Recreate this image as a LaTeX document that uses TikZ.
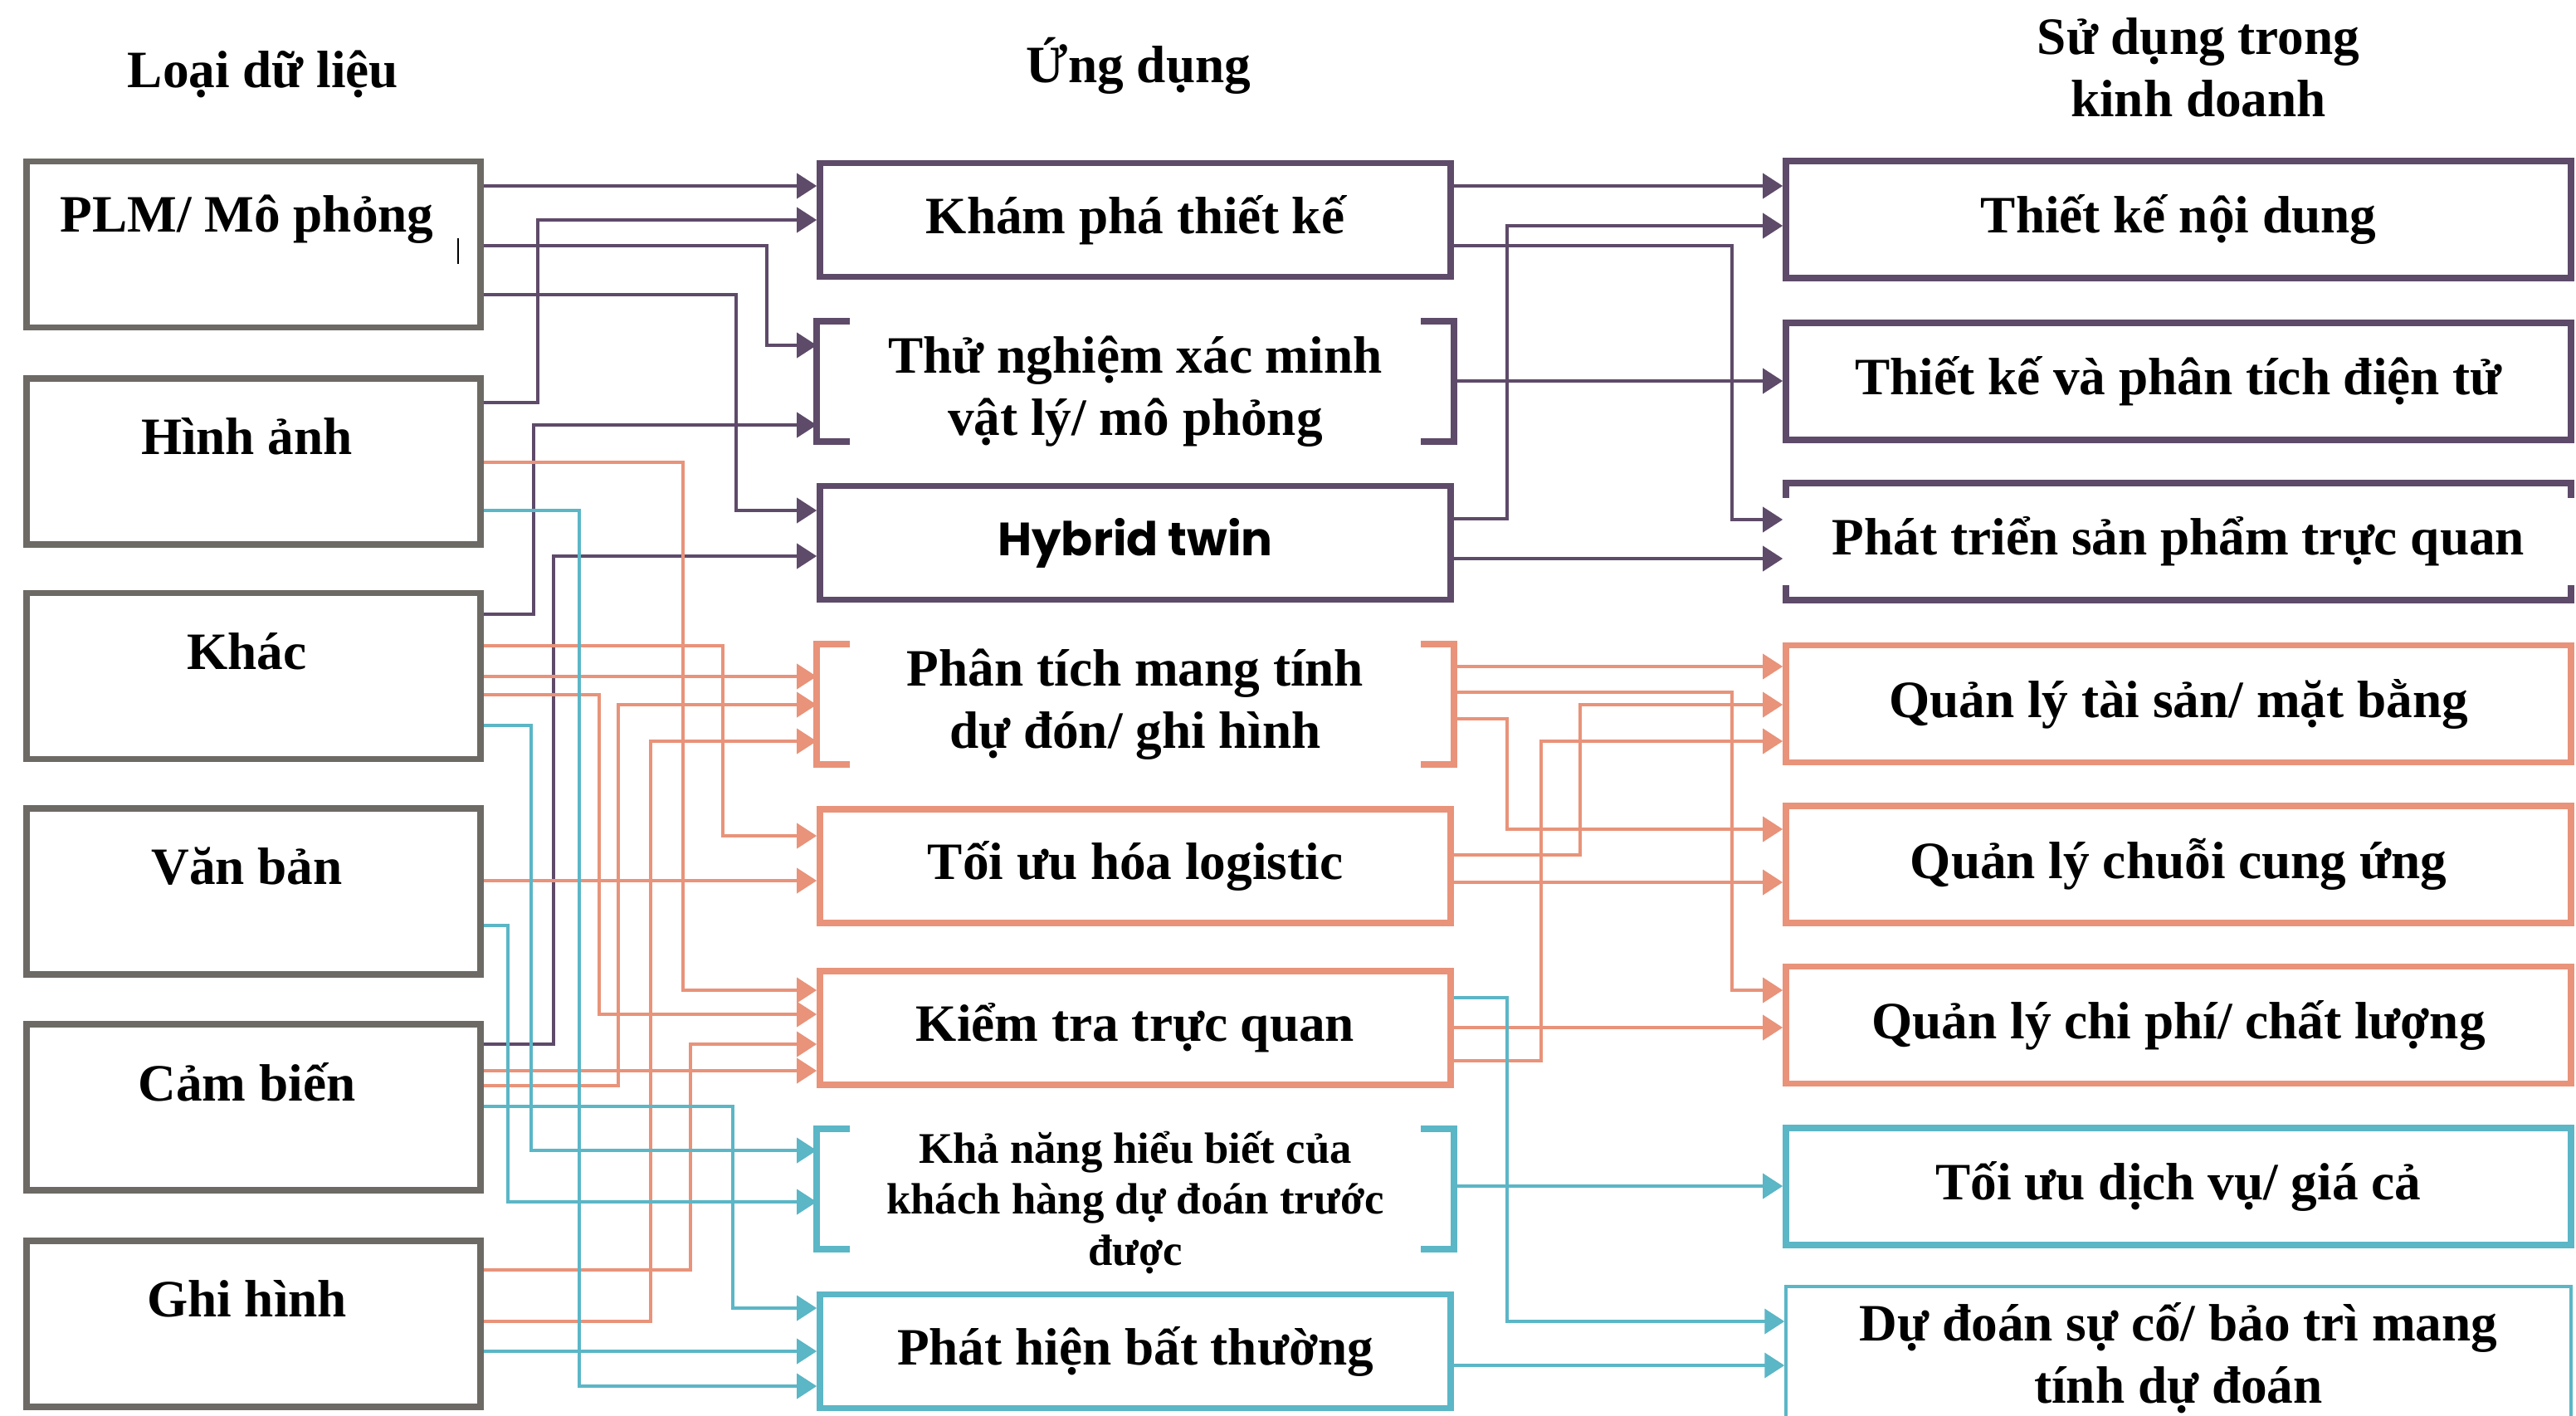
\documentclass[tikz,border=0pt]{standalone}
\usepackage{fontspec}
\setmainfont{Liberation Serif}
\newfontfamily\hybfont{Poppins}
\usepackage{tikz}
\usetikzlibrary{arrows.meta,backgrounds}
\definecolor{grayc}{HTML}{6D6964}
\definecolor{purp}{HTML}{5E4A69}
\definecolor{oran}{HTML}{E8937A}
\definecolor{cyanc}{HTML}{5BB6C6}
\tikzstyle{datbox}=[draw=grayc, line width=2.2pt, minimum width=5.47cm, minimum height=2cm, inner sep=0pt]
\tikzstyle{dlabel}=[font=\bfseries\fontsize{18}{21.3}\selectfont, yshift=3mm, xshift=-0.8mm]
\tikzstyle{appbox}=[line width=2.2pt, minimum width=7.6cm, minimum height=1.37cm, inner sep=0pt, align=center,
font=\bfseries\fontsize{18}{21.3}\selectfont]
\tikzstyle{usebox}=[line width=2.2pt, minimum width=9.46cm, minimum height=1.41cm, inner sep=0pt, align=center,
font=\bfseries\fontsize{18}{21.3}\selectfont]
\tikzstyle{head}=[align=center, font=\bfseries\fontsize{18}{21.3}\selectfont]
\tikzstyle{dlink}=[line width=1.1pt, -{Triangle[length=2.4mm,width=3mm]}]

\begin{document}
\begin{tikzpicture}
\useasboundingbox (0,0) rectangle (31.04,-17.05);
% column heads
\node[head] (h1) at (3.17,-0.89) {Loại dữ liệu};
\node[head] (h2) at (13.72,-0.79) {Ứng dụng};
\node[head] (h3) at (26.49,-0.815) {Sử dụng trong\\kinh doanh};
% data types
\node[datbox, label={[dlabel,name=plmT]center:PLM/ Mô phỏng}] (plm) at (3.055,-2.945) {};
\node[datbox, label={[dlabel,name=hinhT]center:Hình ảnh}] (hinh) at (3.055,-5.56) {};
\node[datbox, label={[dlabel,name=khacT]center:Khác}] (khac) at (3.055,-8.145) {};
\node[datbox, label={[dlabel,name=vanT]center:Văn bản}] (van) at (3.055,-10.74) {};
\node[datbox, label={[dlabel,name=camT]center:Cảm biến}] (cam) at (3.055,-13.34) {};
\node[datbox, label={[dlabel,name=ghiT]center:Ghi hình}] (ghi) at (3.055,-15.95) {};
\draw[black, line width=0.5pt] (5.52,-2.87) -- (5.52,-3.18);
% applications
\node[appbox, draw=purp] (kham) at (13.68,-2.65) {Khám phá thiết kế};
\node[appbox, label={[appbox,name=thuT,yshift=-1.2mm]center:{Thử nghiệm xác minh\\vật lý/ mô phỏng}}] (thu) at (13.68,-4.595) {};
\node[appbox, draw=purp, font=\hybfont\bfseries\fontsize{16}{19}\selectfont] (hyb) at (13.68,-6.54) {Hybrid twin};
\node[appbox] (phan) at (13.68,-8.485) {Phân tích mang tính\\dự đón/ ghi hình};
\node[appbox, draw=oran] (toi) at (13.68,-10.435) {Tối ưu hóa logistic};
\node[appbox, draw=oran] (kiem) at (13.68,-12.385) {Kiểm tra trực quan};
\node[appbox, label={[appbox,name=khaT,yshift=-1.6mm,font=\bfseries\fontsize{15}{17.5}\selectfont]center:{Khả năng hiểu biết của\\khách hàng dự đoán trước\\được}}] (kha) at (13.68,-14.325) {};
\node[appbox, draw=cyanc] (phat) at (13.68,-16.28) {Phát hiện bất thường};
\foreach \n/\c in {thu/purp, phan/oran, kha/cyanc} {
  \draw[\c, line width=2.2pt] ([xshift=4mm]\n.north west) -- (\n.north west) -- (\n.south west) -- ([xshift=4mm]\n.south west);
  \draw[\c, line width=2.2pt] ([xshift=-4mm]\n.north east) -- (\n.north east) -- (\n.south east) -- ([xshift=-4mm]\n.south east);
}
% business use
\node[usebox, draw=purp] (tknd) at (26.25,-2.645) {Thiết kế nội dung};
\node[usebox, draw=purp] (tkpt) at (26.25,-4.595) {Thiết kế và phân tích điện tử};
\node[usebox, draw=purp] (ptsp) at (26.25,-6.525) {};
\fill[white] (21.48,-6.0) rectangle (31.04,-7.05);
\node[usebox] (ptspT) at (ptsp.center) {Phát triển sản phẩm trực quan};
\node[usebox, draw=oran] (qlts) at (26.25,-8.48) {Quản lý tài sản/ mặt bằng};
\node[usebox, draw=oran] (qlcu) at (26.25,-10.415) {Quản lý chuỗi cung ứng};
\node[usebox, draw=oran] (qlcp) at (26.25,-12.35) {Quản lý chi phí/ chất lượng};
\node[usebox, draw=cyanc] (tudv) at (26.25,-14.295) {Tối ưu dịch vụ/ giá cả};
\node[usebox, draw=cyanc, line width=1pt, minimum height=1.72cm] (dudo) at (26.25,-16.36) {Dự đoán sự cố/ bảo trì mang\\tính dự đoán};

\begin{scope}[on background layer]
\fill[white] (0,0) rectangle (31.04,-17.05);
% data -> applications
\draw[dlink, purp] (plm.east |- 0,-2.24) -- (kham.west |- 0,-2.24);
\draw[dlink, purp] (hinh.east |- 0,-4.85) -| (6.48,-2.65) -- (kham.west |- 0,-2.65);
\draw[dlink, purp] (plm.east |- 0,-2.96) -| (9.24,-4.16) -- (thu.west |- 0,-4.16);
\draw[dlink, purp] (khac.east |- 0,-7.40) -| (6.43,-5.12) -- (thu.west |- 0,-5.12);
\draw[dlink, purp] (plm.east |- 0,-3.55) -| (8.87,-6.15) -- (hyb.west |- 0,-6.15);
\draw[dlink, purp] (cam.east |- 0,-12.58) -| (6.67,-6.70) -- (hyb.west |- 0,-6.70);
\draw[dlink, oran] (khac.east |- 0,-8.15) -- (phan.west |- 0,-8.15);
\draw[dlink, oran] (cam.east |- 0,-13.08) -| (7.45,-8.49) -- (phan.west |- 0,-8.49);
\draw[dlink, oran] (ghi.east |- 0,-15.92) -| (7.84,-8.93) -- (phan.west |- 0,-8.93);
\draw[dlink, oran] (khac.east |- 0,-7.78) -| (8.71,-10.07) -- (toi.west |- 0,-10.07);
\draw[dlink, oran] (van.east |- 0,-10.61) -- (toi.west |- 0,-10.61);
\draw[dlink, oran] (hinh.east |- 0,-5.57) -| (8.23,-11.93) -- (kiem.west |- 0,-11.93);
\draw[dlink, oran] (khac.east |- 0,-8.37) -| (7.22,-12.22) -- (kiem.west |- 0,-12.22);
\draw[dlink, oran] (ghi.east |- 0,-15.30) -| (8.32,-12.58) -- (kiem.west |- 0,-12.58);
\draw[dlink, oran] (cam.east |- 0,-12.90) -- (kiem.west |- 0,-12.90);
\draw[dlink, cyanc] (khac.east |- 0,-8.74) -| (6.40,-13.86) -- (kha.west |- 0,-13.86);
\draw[dlink, cyanc] (van.east |- 0,-11.15) -| (6.12,-14.48) -- (kha.west |- 0,-14.48);
\draw[dlink, cyanc] (cam.east |- 0,-13.33) -| (8.83,-15.76) -- (phat.west |- 0,-15.76);
\draw[dlink, cyanc] (ghi.east |- 0,-16.28) -- (phat.west |- 0,-16.28);
\draw[dlink, cyanc] (hinh.east |- 0,-6.15) -| (6.98,-16.70) -- (phat.west |- 0,-16.70);
% applications -> business use
\draw[dlink, purp] (kham.east |- 0,-2.24) -- (tknd.west |- 0,-2.24);
\draw[dlink, purp] (hyb.east |- 0,-6.25) -| (18.16,-2.72) -- (tknd.west |- 0,-2.72);
\draw[dlink, purp] (kham.east |- 0,-2.96) -| (20.87,-6.26) -- (ptsp.west |- 0,-6.26);
\draw[dlink, purp] (thu.east |- 0,-4.59) -- (tkpt.west |- 0,-4.59);
\draw[dlink, purp] (hyb.east |- 0,-6.73) -- (ptsp.west |- 0,-6.73);
\draw[dlink, oran] (phan.east |- 0,-8.03) -- (qlts.west |- 0,-8.03);
\draw[dlink, oran] (toi.east |- 0,-10.30) -| (19.04,-8.49) -- (qlts.west |- 0,-8.49);
\draw[dlink, oran] (kiem.east |- 0,-12.78) -| (18.57,-8.93) -- (qlts.west |- 0,-8.93);
\draw[dlink, oran] (phan.east |- 0,-8.66) -| (18.16,-9.99) -- (qlcu.west |- 0,-9.99);
\draw[dlink, oran] (toi.east |- 0,-10.63) -- (qlcu.west |- 0,-10.63);
\draw[dlink, oran] (phan.east |- 0,-8.34) -| (20.87,-11.93) -- (qlcp.west |- 0,-11.93);
\draw[dlink, oran] (kiem.east |- 0,-12.38) -- (qlcp.west |- 0,-12.38);
\draw[dlink, cyanc] (kha.east |- 0,-14.29) -- (tudv.west |- 0,-14.29);
\draw[dlink, cyanc] (kiem.east |- 0,-12.02) -| (18.16,-15.92) -- (dudo.west |- 0,-15.92);
\draw[dlink, cyanc] (phat.east |- 0,-16.45) -- (dudo.west |- 0,-16.45);
\end{scope}
\end{tikzpicture}
\end{document}
